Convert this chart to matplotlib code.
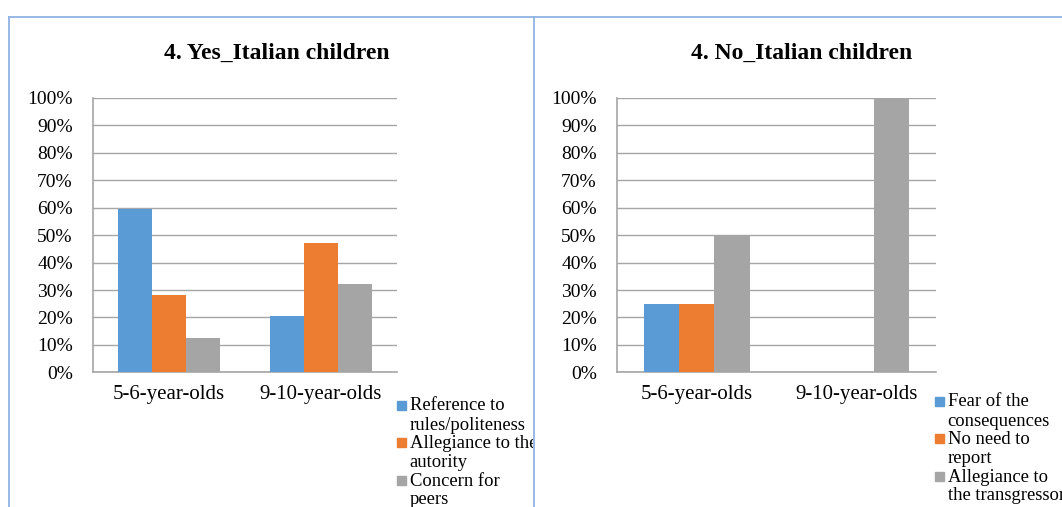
import numpy as np
import matplotlib
matplotlib.use("Agg")
import matplotlib.pyplot as plt
from matplotlib.patches import Rectangle
from matplotlib.lines import Line2D
from matplotlib.transforms import Bbox, TransformedBbox

plt.rcParams['font.family'] = ['Liberation Serif', 'DejaVu Serif']

# data
age_groups = ['5-6-year-olds', '9-10-year-olds']

yes_title = '4. Yes_Italian children'
yes_labels = ['Reference to\nrules/politeness', 'Allegiance to the\nautority', 'Concern for\npeers']
yes_values = [[59.4, 20.6],   # reference to rules/politeness
              [28.1, 47.2],   # allegiance to the autority
              [12.5, 32.2]]   # concern for peers

no_title = '4. No_Italian children'
no_labels = ['Fear of the\nconsequences', 'No need to\nreport', 'Allegiance to\nthe transgressor']
no_values = [[25, 0],
             [25, 0],
             [50, 100]]

colors = ['#5B9BD5', '#ED7D31', '#A5A5A5']
grid_col = '#A6A6A6'
border_col = '#8DB3E2'

W, H = 1062, 507
fig = plt.figure(figsize=(W / 100, H / 100), dpi=100)


def px_box(x0, y0, x1, y1):
    # pixel box (top-left origin) -> figure fraction rect
    return [x0 / W, (H - y1) / H, (x1 - x0) / W, (y1 - y0) / H]


def draw_panel(rect, title, title_x, values, labels, leg_x, leg_y, clip_x):
    ax = fig.add_axes(px_box(*rect))
    x = np.arange(len(age_groups))
    w = 0.222
    for i, vals in enumerate(values):
        ax.bar(x + (i - 1) * w, vals, width=w, color=colors[i], zorder=3)
    ax.set_xlim(-0.5, len(age_groups) - 0.5)
    ax.set_ylim(0, 100)
    ax.set_yticks(np.arange(0, 101, 10))
    ax.set_yticklabels([f'{v}%' for v in range(0, 101, 10)])
    ax.set_xticks(x)
    ax.set_xticklabels(age_groups)
    ax.tick_params(axis='y', length=0, pad=14.5, labelsize=14)
    ax.tick_params(axis='x', length=0, pad=9, labelsize=15)
    ax.yaxis.grid(True, color=grid_col, linewidth=1.0, zorder=0)
    for s in ['top', 'right']:
        ax.spines[s].set_visible(False)
    for s in ['left', 'bottom']:
        ax.spines[s].set_color(grid_col)
        ax.spines[s].set_linewidth(1.2)
    fig.text(title_x / W, 1 - 53 / H, title, ha='center', va='center',
             fontsize=17, fontweight='bold')

    # legend: square beside the first line of each wrapped entry
    clip = TransformedBbox(Bbox([[0, 0], [clip_x / W, 1]]), fig.transFigure)
    for i, lab in enumerate(labels):
        y = leg_y + i * 37.5
        fig.add_artist(Rectangle((leg_x / W, 1 - (y - 1) / H), 9 / W, 9 / H,
                                 transform=fig.transFigure, color=colors[i]))
        for j, line in enumerate(lab.split('\n')):
            t = fig.text((leg_x + 12.5) / W, 1 - (y + j * 19) / H, line,
                         ha='left', va='baseline', fontsize=13.4)
            t.set_clip_box(clip)
    return ax


draw_panel((93, 98, 397, 372.3), yes_title, 277, yes_values, yes_labels, 397, 410.5, 533)
draw_panel((617, 98, 936, 372.3), no_title, 802, no_values, no_labels, 935, 406.5, W)

# panel borders
for pts in [([8.5, 8.5], [H, 17]), ([8.5, W], [17, 17]), ([534, 534], [17, H])]:
    fig.add_artist(Line2D([p / W for p in pts[0]], [1 - p / H for p in pts[1]],
                          transform=fig.transFigure, color=border_col, linewidth=1.3))

fig.savefig('out.png', dpi=100)
